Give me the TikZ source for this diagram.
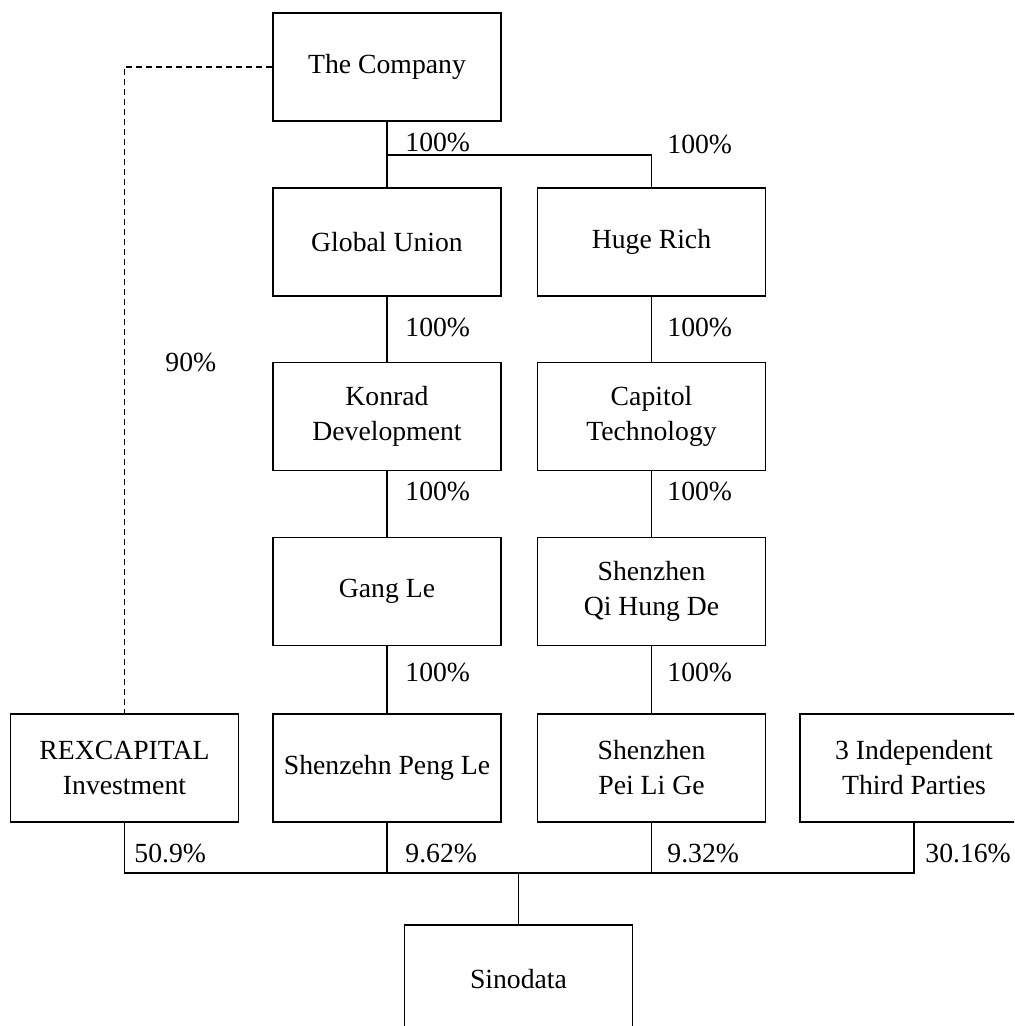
\documentclass[tikz,border=0pt]{standalone}
\usepackage{fontspec}
\setmainfont{Liberation Serif}
\usetikzlibrary{positioning}

\begin{document}
\begin{tikzpicture}[x=0.5pt, y=-0.5pt,
        every node/.style={font=\fontsize{13.85}{17.5}\selectfont},
        entity/.style={draw, line width=0.6pt, minimum width=114pt, minimum height=54pt, align=center, inner sep=0pt},
        share/.style={anchor=west, inner sep=0pt},
        link/.style={line width=0.6pt}]
        \useasboundingbox (0,0) rectangle (1014,1026);
        \clip (0,0) rectangle (1014,1026);

        % Holding chain
        \node[entity] (company) at (387,67) {The Company};
        \node[entity] (global) at (387,242) {Global Union};
        \node[entity] (huge) at (651.5,242) {Huge Rich};
        \node[entity] (konrad) at (387,416.5) {Konrad\\Development};
        \node[entity] (capitol) at (651.5,416.5) {Capitol\\Technology};
        \node[entity] (gangle) at (387,591.5) {Gang Le};
        \node[entity] (qihung) at (651.5,591.5) {Shenzhen\\Qi Hung De};

        % Shareholders of Sinodata
        \node[entity] (rex) at (124.5,768) {REXCAPITAL\\Investment};
        \node[entity] (pengle) at (387,768) {Shenzehn Peng Le};
        \node[entity] (peilige) at (651.5,768) {Shenzhen\\Pei Li Ge};
        \node[entity] (third) at (914,768) {3 Independent\\Third Parties};
        \node[entity] (sinodata) at (518.5,979) {Sinodata};

        % Branch below the company
        \coordinate (fork) at (387,155);
        \draw[link] (company) -- (global);
        \draw[link] (fork) -| (huge.north);
        \node[share] (pcglobal) at (405,142) {100\%};
        \node[share] (pchuge) at (667,144) {100\%};

        % Vertical links
        \draw[link] (global) -- (konrad);
        \draw[link] (huge) -- (capitol);
        \draw[link] (konrad) -- (gangle);
        \draw[link] (capitol) -- (qihung);
        \draw[link] (gangle) -- (pengle);
        \draw[link] (qihung) -- (peilige);
        \node[share] (pckonrad) at (405,327) {100\%};
        \node[share] (pccapitol) at (667,327) {100\%};
        \node[share] (pcgangle) at (405,491) {100\%};
        \node[share] (pcqihung) at (667,491) {100\%};
        \node[share] (pcpengle) at (405,672) {100\%};
        \node[share] (pcpeilige) at (667,672) {100\%};

        % Dashed control line
        \draw[link, dash pattern=on 3pt off 2pt] (company.west) -| (rex.north);
        \node[share] (pcrex) at (165,362) {90\%};

        % Bus into Sinodata
        \coordinate (bus) at (518.5,873);
        \draw[link] (rex.south) -- (rex.south |- bus) -- (third.south |- bus) -- (third.south);
        \draw[link] (pengle.south) -- (pengle.south |- bus);
        \draw[link] (peilige.south) -- (peilige.south |- bus);
        \draw[link] (bus) -- (sinodata.north);
        \node[share] (sdrex) at (134,853) {50.9\%};
        \node[share] (sdpengle) at (405,853) {9.62\%};
        \node[share] (sdpeilige) at (667,853) {9.32\%};
        \node[share] (sdthird) at (925,853) {30.16\%};
\end{tikzpicture}
\end{document}
